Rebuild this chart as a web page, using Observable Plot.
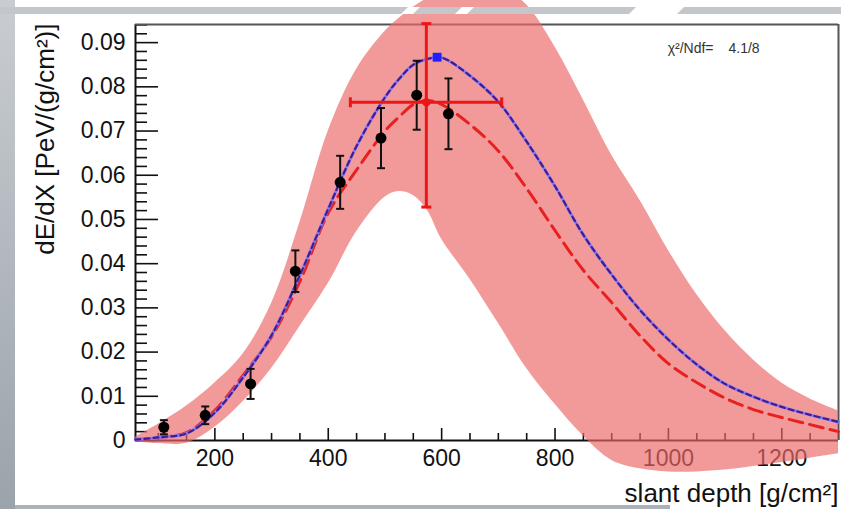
<!DOCTYPE html>
<html><head><meta charset="utf-8">
<script src="https://cdn.jsdelivr.net/npm/d3@7"></script>
<script src="https://cdn.jsdelivr.net/npm/@observablehq/plot@0.6"></script>
<style>
html,body{margin:0;padding:0;background:#fff;}
#wrap{position:relative;width:841px;height:509px;overflow:hidden;background:#fff;}
#chart{position:absolute;left:0;top:0;}
#left{position:absolute;left:0;top:0;width:15px;height:509px;background:linear-gradient(#c9cdd1,#9ba3ab);}
#top{position:absolute;left:0;top:0;width:841px;height:7px;}
#bottom{position:absolute;left:15px;top:505px;width:655px;height:4px;background:#aab1b8;}
</style></head><body>
<div id="wrap">
  <div id="chart"></div>
  <div id="left"></div>
  <div id="top"><svg width="841" height="7"><rect width="841" height="7" fill="#c3c7cb"/>
    <polygon points="408,0 420,0 413,7 401,7" fill="#fff"/>
    <polygon points="462,0 474,0 467,7 455,7" fill="#fff"/>
    <polygon points="636,0 684,0 677,7 629,7" fill="#fff"/></svg></div>
  <div id="bottom"></div>
</div>
<script>
// ---- data ----
const fitDepth = [60,100,150,200,250,300,350,400,450,500,525,550,575,600,650,700,750,800,850,900,950,1000,1050,1100,1150,1200,1250,1300];
const fitBlue  = [0.0002,0.0007,0.0016,0.0063,0.0143,0.0238,0.0374,0.0524,0.0666,0.0776,0.0818,0.0850,0.0863,0.0866,0.0825,0.0766,0.0676,0.0575,0.0465,0.0375,0.0295,0.0228,0.0172,0.0128,0.0099,0.0076,0.0058,0.0042];
const fitRed   = [0.0002,0.0007,0.0018,0.0068,0.0148,0.0235,0.0360,0.0515,0.0612,0.0700,0.0732,0.0760,0.0769,0.0760,0.0715,0.0655,0.0570,0.0475,0.0385,0.0312,0.0237,0.0174,0.0131,0.0096,0.0070,0.0052,0.0036,0.0020];
const bandHigh = [0.0008,0.0037,0.0078,0.0130,0.0196,0.0310,0.0493,0.0700,0.0840,0.0925,0.0955,0.0980,0.1000,0.1015,0.1035,0.1030,0.0985,0.0890,0.0770,0.0645,0.0543,0.0430,0.0330,0.0248,0.0182,0.0130,0.0094,0.0067];
const bandLow  = [-0.0004,-0.0007,-0.0006,0.0030,0.0088,0.0163,0.0258,0.0355,0.0472,0.0550,0.0563,0.0554,0.0520,0.0455,0.0365,0.0265,0.0163,0.0082,0.0010,-0.0045,-0.0064,-0.0071,-0.0071,-0.0067,-0.0059,-0.0050,-0.0040,-0.0030];

const pointDepth = [110,183,263,342,421,493,556,612];
const pointValue = [0.0030,0.0057,0.0128,0.0383,0.0584,0.0684,0.0781,0.0739];
const pointError = [0.0016,0.0020,0.0034,0.0047,0.0060,0.0068,0.0078,0.0080];

const xmaxDepth = [573], xmaxValue = [0.0765], xmaxDepthLow = [439], xmaxDepthHigh = [706], xmaxValueLow = [0.0528], xmaxValueHigh = [0.0943];
const peakDepth = [592], peakValue = [0.0867];

const xDomain = [60, 1300];
const yDomain = [0, 0.0941];
const xMajor = [200,400,600,800,1000,1200];
const xMinor = [100,150,250,300,350,450,500,550,650,700,750,850,900,950,1050,1100,1150,1250,1300];
const yMajor = [0,0.01,0.02,0.03,0.04,0.05,0.06,0.07,0.08,0.09];
const yMinor = d3.range(1,48).map(i => i*0.002).filter(v => Math.round(v*1000) % 10 !== 0 && v < 0.0941);

const xTitle = "slant depth [g/cm²]";
const yTitle = "dE/dX [PeV/(g/cm²)]";
const chiLabel = "χ²/Ndf=";
const chiValue = "4.1/8";

// ---- tables ----
const fit = fitDepth.map((d,i) => ({d, blue: fitBlue[i], red: fitRed[i], hi: bandHigh[i], lo: bandLow[i]}));
const pts = pointDepth.map((d,i) => ({d, v: pointValue[i], e: pointError[i]}));
const xmax = xmaxDepth.map((d,i) => ({d, v: xmaxValue[i], dl: xmaxDepthLow[i], dh: xmaxDepthHigh[i], vl: xmaxValueLow[i], vh: xmaxValueHigh[i]}));
const peak = peakDepth.map((d,i) => ({d, v: peakValue[i]}));

const hCap = {draw(ctx, size){ const w = Math.sqrt(size/Math.PI); ctx.moveTo(-w,0); ctx.lineTo(w,0); }};
const vCap = {draw(ctx, size){ const w = Math.sqrt(size/Math.PI); ctx.moveTo(0,-w); ctx.lineTo(0,w); }};
const font = "'Liberation Sans', Arial, Helvetica, sans-serif";

const plot = Plot.plot({
  width: 841, height: 509,
  marginLeft: 135, marginTop: 24, marginRight: 3, marginBottom: 69,
  style: {background: "transparent", fontFamily: font, overflow: "visible", color: "#111"},
  x: {domain: xDomain},
  y: {domain: yDomain},
  marks: [
    Plot.axisX({ticks: xMajor, tickSize: 0, tickPadding: 9, tickFormat: d => String(d), fontSize: 23, label: null}),
    Plot.axisX({ticks: xMajor, tickSize: -12, tickFormat: () => "", label: null, strokeWidth: 1.6}),
    Plot.axisX({ticks: xMinor, tickSize: -7, tickFormat: () => "", label: null, strokeWidth: 1.6}),
    Plot.axisY({ticks: yMajor, tickSize: 0, tickPadding: 10, tickFormat: d => d === 0 ? "0" : d.toFixed(2), fontSize: 23, label: null}),
    Plot.axisY({ticks: yMajor, tickSize: -23, tickFormat: () => "", label: null, strokeWidth: 1.6}),
    Plot.axisY({ticks: yMinor, tickSize: -12, tickFormat: () => "", label: null, strokeWidth: 1.6}),
    Plot.ruleX([xDomain[0]], {stroke: "#111", strokeWidth: 2}),
    Plot.ruleY([yDomain[0]], {stroke: "#111", strokeWidth: 2}),
    Plot.ruleY([yDomain[1]], {stroke: "#555", strokeWidth: 2}),
    Plot.ruleX([xDomain[1]], {stroke: "#555", strokeWidth: 2}),
    Plot.areaY(fit, {x: "d", y1: "lo", y2: "hi", fill: "rgb(236,104,104)", fillOpacity: 0.67, curve: "catmull-rom"}),
    Plot.line(fit, {x: "d", y: "red", stroke: "#e82020", strokeWidth: 3, strokeDasharray: "14,7", curve: "catmull-rom"}),
    Plot.line(fit, {x: "d", y: "blue", stroke: "#7d7dff", strokeWidth: 3, curve: "catmull-rom"}),
    Plot.line(fit, {x: "d", y: "blue", stroke: "#4a1a8c", strokeWidth: 2.2, strokeDasharray: "5,4", curve: "catmull-rom"}),
    Plot.ruleX(pts, {x: "d", y1: d => d.v - d.e, y2: d => d.v + d.e, stroke: "#111", strokeWidth: 2}),
    Plot.dot(pts, {x: "d", y: d => d.v - d.e, symbol: hCap, r: 4, stroke: "#111", strokeWidth: 2}),
    Plot.dot(pts, {x: "d", y: d => d.v + d.e, symbol: hCap, r: 4, stroke: "#111", strokeWidth: 2}),
    Plot.dot(pts, {x: "d", y: "v", r: 5.5, fill: "#000", stroke: "none"}),
    Plot.ruleY(xmax, {y: "v", x1: "dl", x2: "dh", stroke: "#ee1515", strokeWidth: 3}),
    Plot.ruleX(xmax, {x: "d", y1: "vl", y2: "vh", stroke: "#ee1515", strokeWidth: 3}),
    Plot.dot(xmax, {x: "dl", y: "v", symbol: vCap, r: 5, stroke: "#ee1515", strokeWidth: 3}),
    Plot.dot(xmax, {x: "dh", y: "v", symbol: vCap, r: 5, stroke: "#ee1515", strokeWidth: 3}),
    Plot.dot(xmax, {x: "d", y: "vl", symbol: hCap, r: 5, stroke: "#ee1515", strokeWidth: 3}),
    Plot.dot(xmax, {x: "d", y: "vh", symbol: hCap, r: 5, stroke: "#ee1515", strokeWidth: 3}),
    Plot.dot(xmax, {x: "d", y: "v", r: 4, fill: "#ee1515", stroke: "none"}),
    Plot.dot(peak, {x: "d", y: "v", symbol: "square", r: 5, fill: "#2020ff", stroke: "none"}),
    Plot.text([yTitle], {frameAnchor: "top-left", text: d => d, rotate: -90, textAnchor: "end", lineAnchor: "middle", dx: -90, dy: -1, fontSize: 26, fill: "#111"}),
    Plot.text([xTitle], {frameAnchor: "bottom-right", text: d => d, textAnchor: "end", lineAnchor: "middle", dy: 53, dx: 0, fontSize: 26, fill: "#111"}),
    Plot.text([chiLabel], {frameAnchor: "top-right", text: d => d, textAnchor: "end", lineAnchor: "middle", dx: -125, dy: 24, fontSize: 14, fill: "#333"}),
    Plot.text([chiValue], {frameAnchor: "top-right", text: d => d, textAnchor: "start", lineAnchor: "middle", dx: -110, dy: 24, fontSize: 14, fill: "#333"})
  ]
});
document.getElementById("chart").appendChild(plot);
</script>
</body></html>
